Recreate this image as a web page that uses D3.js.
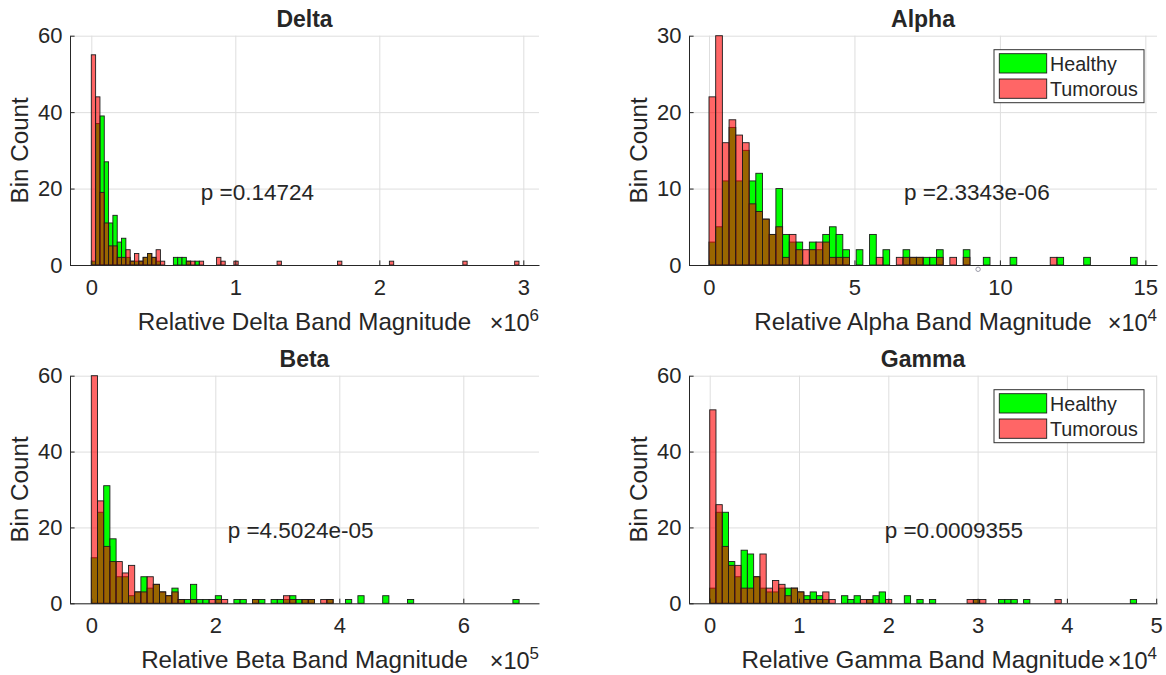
<!DOCTYPE html>
<html>
<head>
<meta charset="utf-8">
<script src="https://cdn.jsdelivr.net/npm/d3@7"></script>
<style>
  body { margin: 0; background: #fff; }
  svg text { font-family: 'Liberation Sans', Arial, Helvetica, sans-serif; fill: #262626; }
</style>
</head>
<body>
<svg id="chart" width="1166" height="675"></svg>
<script>
'use strict';

var seriesNames = ['Healthy', 'Tumorous'];

// Delta band, bin width 0.03 x10^6
var deltaBinWidth = 30000;
var deltaHealthy = [
	1, 37, 39, 27, 11, 13, 6, 7, 2, 1,
	1, 1, 2, 3, 2, 1, 0, 0, 0, 2,
	2, 2, 1, 0, 1
];
var deltaTumorous = [
	55, 44, 19, 11, 5, 5, 2, 2, 4, 1,
	3, 1, 2, 3, 2, 4, 1, 0, 0, 0,
	0, 0, 1, 1, 0, 1, 0, 0, 0, 2,
	1, 0, 0, 1, 0, 0, 0, 0, 0, 0,
	0, 0, 0, 1, 0, 0, 0, 0, 0, 0,
	0, 0, 0, 0, 0, 0, 0, 1, 0, 0,
	0, 0, 0, 0, 0, 0, 0, 0, 0, 1,
	0, 0, 0, 0, 0, 0, 0, 0, 0, 0,
	0, 0, 0, 0, 0, 0, 1, 0, 0, 0,
	0, 0, 0, 0, 0, 0, 0, 0, 1
];
var deltaXTicks = [0, 1, 2, 3];
var deltaP = 'p =0.14724';

// Alpha band, bin width 0.23 x10^4
var alphaBinWidth = 2300;
var alphaHealthy = [
	3, 5, 11, 18, 11, 15, 11, 12, 6, 4,
	10, 4, 3, 3, 0, 3, 2, 4, 5, 4,
	2, 0, 2, 0, 4, 0, 2, 0, 0, 2,
	1, 1, 1, 1, 2, 0, 0, 0, 2, 0,
	0, 1, 0, 0, 0, 1, 0, 0, 0, 0,
	0, 0, 1, 0, 0, 0, 1, 0, 0, 0,
	0, 0, 0, 1
];
var alphaTumorous = [
	22, 30, 16, 19, 17, 16, 8, 7, 6, 4,
	5, 1, 4, 2, 2, 2, 3, 3, 1, 1,
	1, 0, 0, 0, 0, 1, 0, 0, 1, 1,
	1, 1, 0, 0, 1, 0, 1, 0, 1, 0,
	0, 0, 0, 0, 0, 0, 0, 0, 0, 0,
	0, 1
];
var alphaXTicks = [0, 5, 10, 15];
var alphaP = 'p =2.3343e-06';

// Beta band, bin width 0.1 x10^5
var betaBinWidth = 10000;
var betaHealthy = [
	12, 24, 31, 17, 7, 7, 2, 3, 7, 4,
	5, 3, 2, 4, 1, 1, 5, 1, 1, 0,
	2, 0, 0, 1, 1, 0, 1, 1, 0, 1,
	1, 1, 2, 1, 1, 1, 0, 0, 1, 0,
	0, 1, 0, 2, 0, 0, 0, 2, 0, 0,
	0, 1, 0, 0, 0, 0, 0, 0, 0, 0,
	0, 0, 0, 0, 0, 0, 0, 0, 1
];
var betaTumorous = [
	60, 27, 15, 11, 11, 8, 10, 3, 3, 7,
	5, 3, 2, 3, 1, 0, 1, 0, 0, 1,
	1, 1, 0, 0, 0, 0, 1, 0, 0, 0,
	0, 2, 1, 0, 1, 1, 0, 1, 1
];
var betaXTicks = [0, 2, 4, 6];
var betaP = 'p =4.5024e-05';

// Gamma band, bin width ~0.07 x10^4
var gammaBinWidth = 703;
var gammaHealthy = [
	4, 24, 24, 11, 7, 14, 13, 7, 4, 3,
	3, 4, 4, 4, 3, 2, 3, 2, 1, 0,
	0, 2, 1, 2, 0, 1, 2, 3, 0, 0,
	0, 2, 0, 1, 0, 1, 0, 0, 0, 0,
	0, 0, 1, 0, 0, 0, 1, 1, 1, 0,
	1, 0, 0, 0, 0, 0, 0, 0, 0, 0,
	0, 0, 0, 0, 0, 0, 0, 1
];
var gammaTumorous = [
	51, 26, 15, 10, 10, 4, 4, 7, 13, 4,
	6, 5, 2, 4, 3, 1, 1, 1, 3, 1,
	0, 0, 0, 0, 1, 1, 0, 0, 1, 0,
	0, 0, 0, 0, 0, 0, 0, 0, 0, 0,
	0, 1, 1, 1, 0, 0, 0, 0, 0, 0,
	0, 0, 0, 0, 0, 1
];
var gammaXTicks = [0, 1, 2, 3, 4, 5];
var gammaP = 'p =0.0009355';

var countTicks60 = [0, 20, 40, 60];
var countTicks30 = [0, 10, 20, 30];

var panels = [
	{title: 'Delta', width: deltaBinWidth, healthy: deltaHealthy, tumorous: deltaTumorous,
		xTicks: deltaXTicks, exp: 6, yTicks: countTicks60, p: deltaP, pAt: [0.76e6, 20], legend: false,
		frame: {left: 70, top: 35.7, right: 539, bottom: 265}, xDomain: [-147917, 3109028]},
	{title: 'Alpha', width: alphaBinWidth, healthy: alphaHealthy, tumorous: alphaTumorous,
		xTicks: alphaXTicks, exp: 4, yTicks: countTicks30, p: alphaP, pAt: [6.7e4, 10], legend: true,
		frame: {left: 689, top: 35.7, right: 1157, bottom: 265}, xDomain: [-6875, 154005], marker: 9.25e4},
	{title: 'Beta', width: betaBinWidth, healthy: betaHealthy, tumorous: betaTumorous,
		xTicks: betaXTicks, exp: 5, yTicks: countTicks60, p: betaP, pAt: [2.2e5, 20], legend: false,
		frame: {left: 70, top: 375.7, right: 539, bottom: 603.3}, xDomain: [-34355, 722097]},
	{title: 'Gamma', width: gammaBinWidth, healthy: gammaHealthy, tumorous: gammaTumorous,
		xTicks: gammaXTicks, exp: 4, yTicks: countTicks60, p: gammaP, pAt: [1.96e4, 20], legend: true,
		frame: {left: 689, top: 375.7, right: 1157, bottom: 603.3}, xDomain: [-2318, 50090]}
];

var axisColor = '#262626';
var gridColor = '#dedede';
var edgeColor = '#1c1c1c';
var tickFont = 22;
var labelFont = 24.2;
var textFont = 22.5;

var svg = d3.select('#chart');

panels.forEach(function (p) {

	var f = p.frame;
	var unit = Math.pow(10, p.exp);
	var x = d3.scaleLinear().domain(p.xDomain).range([f.left, f.right]);
	var y = d3.scaleLinear().domain([0, d3.max(p.yTicks)]).range([f.bottom, f.top]);
	var xVals = p.xTicks.map(function (t) { return t * unit; });

	var g = svg.append('g');

	//grid
	g.append('g')
		.attr('transform', 'translate(0,' + f.bottom + ')')
		.call(d3.axisBottom(x).tickValues(xVals).tickSize(-(f.bottom - f.top)).tickFormat(''))
		.call(function (s) {
			s.select('.domain').remove();
			s.selectAll('line').attr('stroke', gridColor);
		});
	g.append('g')
		.attr('transform', 'translate(' + f.left + ',0)')
		.call(d3.axisLeft(y).tickValues(p.yTicks).tickSize(-(f.right - f.left)).tickFormat(''))
		.call(function (s) {
			s.select('.domain').remove();
			s.selectAll('line').attr('stroke', gridColor);
		});

	//bars: healthy opaque, tumorous at 0.6 alpha on top
	var series = [
		{counts: p.healthy, fill: '#00ff00', alpha: 1},
		{counts: p.tumorous, fill: '#ff0000', alpha: 0.6}
	];
	series.forEach(function (s) {
		var bins = s.counts
			.map(function (c, i) { return {i: i, c: c}; })
			.filter(function (d) { return d.c > 0; });
		g.append('g')
			.selectAll('rect')
			.data(bins)
			.enter()
			.append('rect')
			.attr('x', function (d) { return x(d.i * p.width); })
			.attr('width', function (d) { return x((d.i + 1) * p.width) - x(d.i * p.width); })
			.attr('y', function (d) { return y(d.c); })
			.attr('height', function (d) { return y(0) - y(d.c); })
			.attr('fill', s.fill)
			.attr('fill-opacity', s.alpha)
			.attr('stroke', edgeColor)
			.attr('stroke-width', 0.9);
	});

	//axes
	g.append('g')
		.attr('transform', 'translate(0,' + f.bottom + ')')
		.call(d3.axisBottom(x).tickValues(xVals).tickSizeInner(-4.6).tickSizeOuter(0).tickPadding(14.5)
			.tickFormat(function (d) { return d / unit; }))
		.call(function (s) {
			s.select('.domain').attr('stroke', axisColor);
			s.selectAll('line').attr('stroke', axisColor);
			s.selectAll('text').attr('font-size', tickFont).attr('fill', axisColor);
		});
	g.append('g')
		.attr('transform', 'translate(' + f.left + ',0)')
		.call(d3.axisLeft(y).tickValues(p.yTicks).tickSizeInner(-4.6).tickSizeOuter(0).tickPadding(7.5))
		.call(function (s) {
			s.select('.domain').attr('stroke', axisColor);
			s.selectAll('line').attr('stroke', axisColor);
			s.selectAll('text').attr('font-size', tickFont).attr('fill', axisColor);
		});

	//title
	g.append('text')
		.text(p.title)
		.attr('text-anchor', 'middle')
		.attr('font-weight', 'bold')
		.attr('font-size', 23)
		.attr('x', (f.left + f.right) / 2)
		.attr('y', f.top - 9);

	//x label
	g.append('text')
		.text('Relative ' + p.title + ' Band Magnitude')
		.attr('text-anchor', 'middle')
		.attr('font-size', labelFont)
		.attr('x', (f.left + f.right) / 2)
		.attr('y', f.bottom + 65);

	//exponent
	var ex = g.append('text')
		.attr('text-anchor', 'end')
		.attr('x', f.right)
		.attr('y', f.bottom + 66);
	ex.append('tspan').text('\u00d710').attr('font-size', 23.5);
	ex.append('tspan').text(p.exp).attr('font-size', 17).attr('dy', -10);

	//y label
	g.append('text')
		.text('Bin Count')
		.attr('text-anchor', 'middle')
		.attr('font-size', labelFont)
		.attr('transform', 'translate(' + (f.left - 42.3) + ',' + ((f.top + f.bottom) / 2) + '),rotate(-90)');

	//p value
	g.append('text')
		.text(p.p)
		.attr('font-size', textFont)
		.attr('x', x(p.pAt[0]))
		.attr('y', y(p.pAt[1]) + 11);

	if (p.marker) {
		g.append('circle')
			.attr('cx', x(p.marker))
			.attr('cy', f.bottom + 4.3)
			.attr('r', 2.2)
			.attr('fill', 'none')
			.attr('stroke', '#9a9aa8')
			.attr('stroke-width', 1);
	}

	if (p.legend) {
		var lx = f.right - 163;
		var ly = f.top + 14;
		var lg = g.append('g').attr('transform', 'translate(' + lx + ',' + ly + ')');
		lg.append('rect')
			.attr('width', 150)
			.attr('height', 53)
			.attr('fill', '#fff')
			.attr('stroke', '#303030')
			.attr('stroke-width', 1);
		var swatch = ['#00ff00', '#ff6666'];
		seriesNames.forEach(function (name, i) {
			lg.append('rect')
				.attr('x', 5.3)
				.attr('y', 4 + i * 25.3)
				.attr('width', 47.4)
				.attr('height', 19.3)
				.attr('fill', swatch[i])
				.attr('stroke', edgeColor)
				.attr('stroke-width', 0.9);
			lg.append('text')
				.text(name)
				.attr('font-size', 19.7)
				.attr('x', 56)
				.attr('y', 14 + i * 25.3 + 7);
		});
	}
});
</script>
</body>
</html>
